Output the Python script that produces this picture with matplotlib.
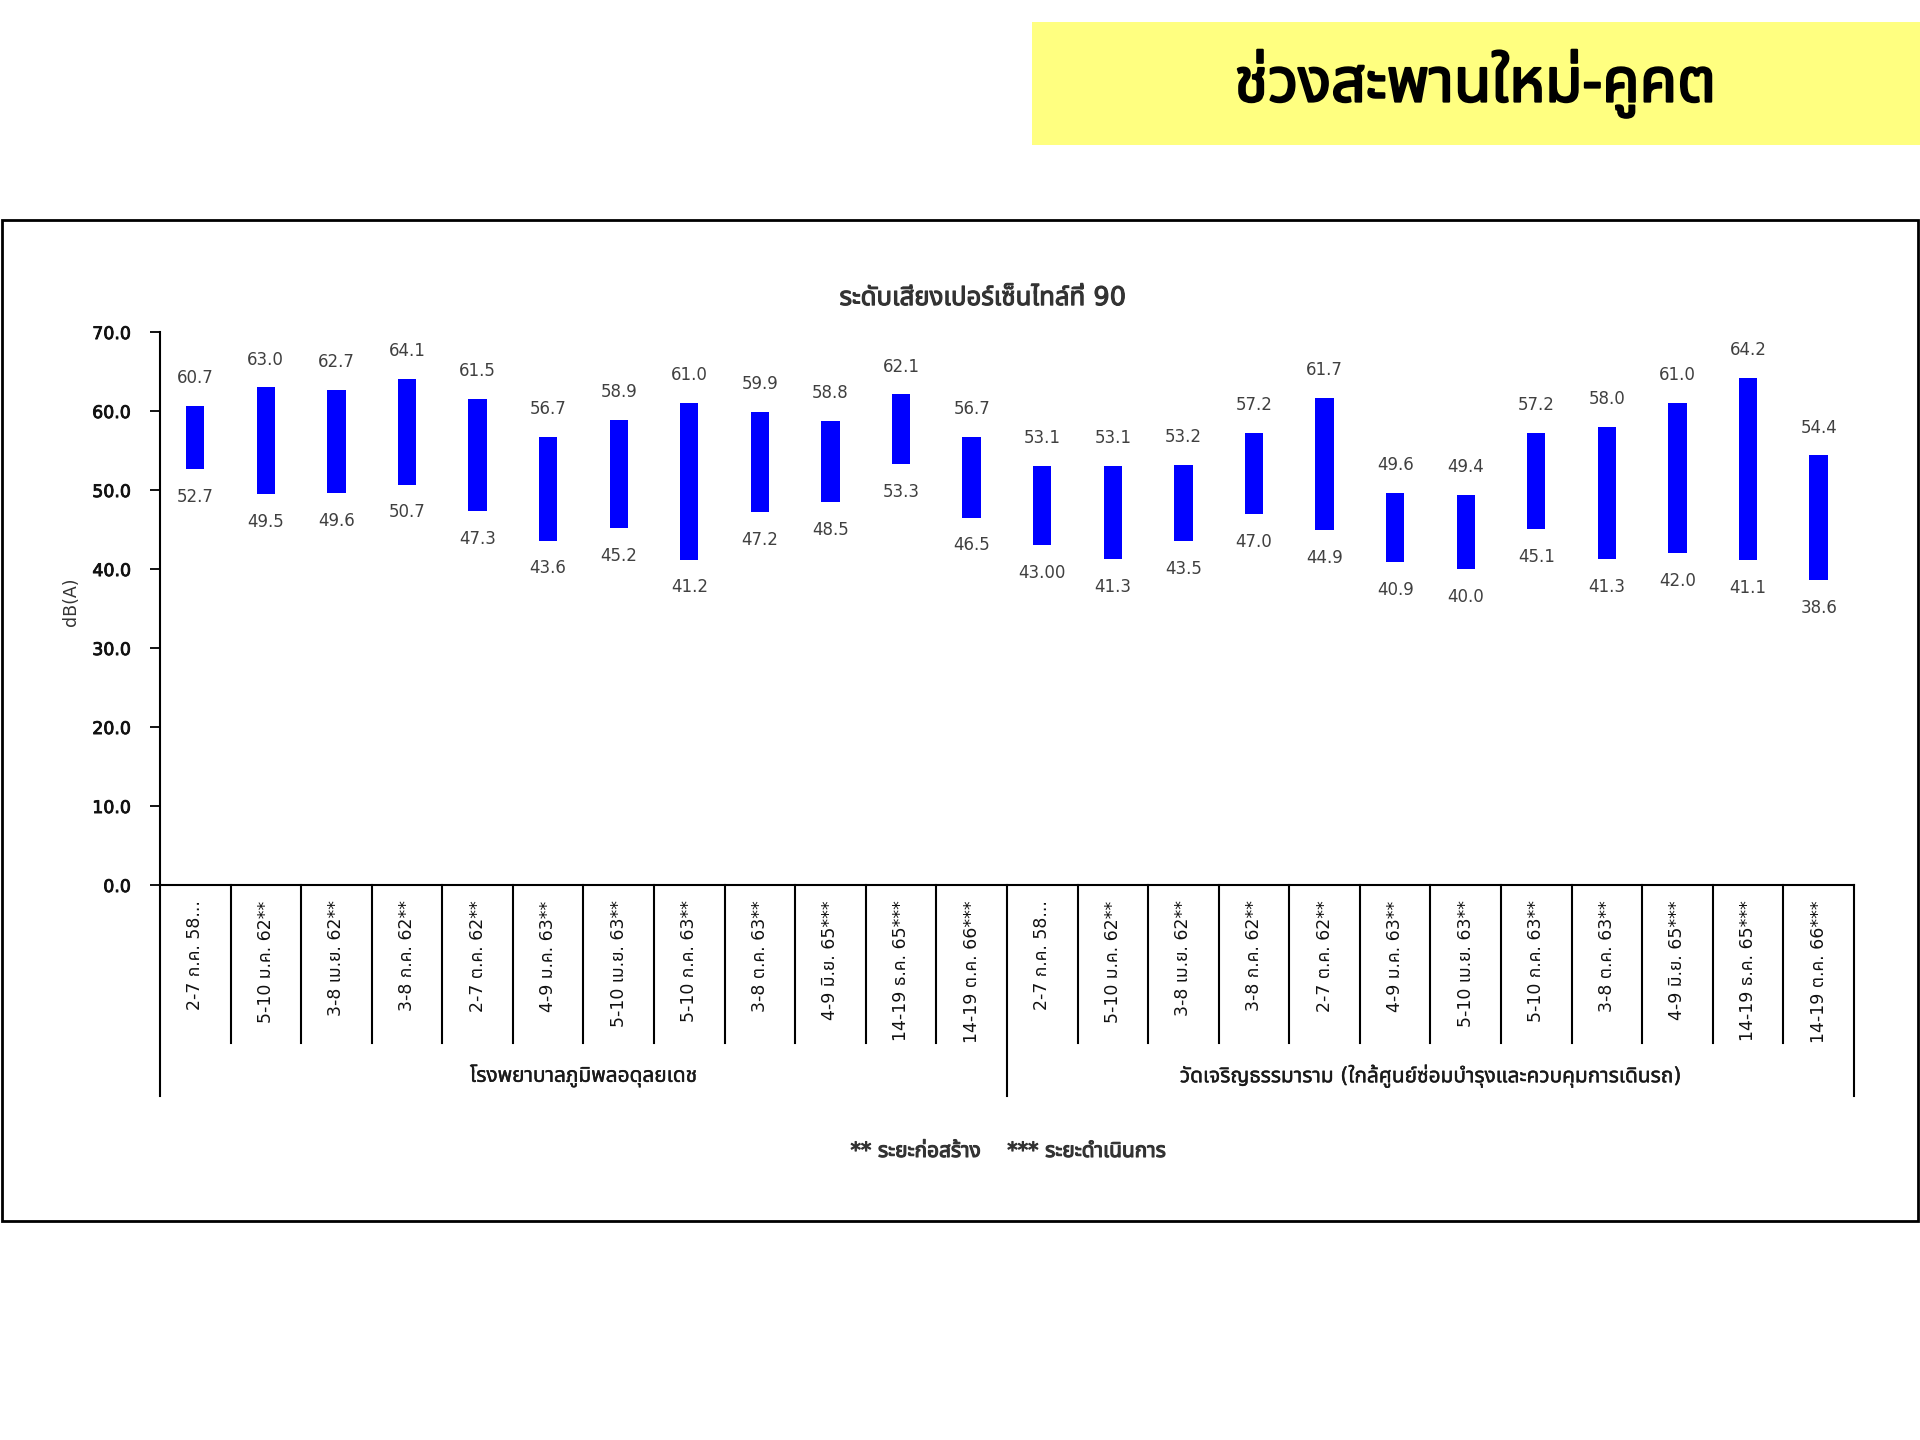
import matplotlib
matplotlib.use("Agg")
import matplotlib.pyplot as plt
import matplotlib.transforms as mtransforms
import matplotlib.patheffects as pe
from matplotlib import font_manager
from matplotlib.ft2font import FT2Font
from matplotlib.patches import Rectangle
import numpy as np

# data
periods = ["2-7 ก.ค. 58...", "5-10 ม.ค. 62**", "3-8 เม.ย. 62**", "3-8 ก.ค. 62**",
           "2-7 ต.ค. 62**", "4-9 ม.ค. 63**", "5-10 เม.ย. 63**", "5-10 ก.ค. 63**",
           "3-8 ต.ค. 63**", "4-9 มิ.ย. 65***", "14-19 ธ.ค. 65***", "14-19 ต.ค. 66***"]
stations = ["โรงพยาบาลภูมิพลอดุลยเดช",
            "วัดเจริญธรรมาราม (ใกล้ศูนย์ซ่อมบำรุงและควบคุมการเดินรถ)"]
high_1 = [60.7, 63.0, 62.7, 64.1, 61.5, 56.7, 58.9, 61.0, 59.9, 58.8, 62.1, 56.7]
low_1 = [52.7, 49.5, 49.6, 50.7, 47.3, 43.6, 45.2, 41.2, 47.2, 48.5, 53.3, 46.5]
high_2 = [53.1, 53.1, 53.2, 57.2, 61.7, 49.6, 49.4, 57.2, 58.0, 61.0, 64.2, 54.4]
low_2 = [43.0, 41.3, 43.5, 47.0, 44.9, 40.9, 40.0, 45.1, 41.3, 42.0, 41.1, 38.6]
yticks = [0, 10, 20, 30, 40, 50, 60, 70]


def find_thai_font():
    # หา font ที่มีตัวอักษรไทย
    preferred = ["Noto Sans Thai", "Noto Sans Thai UI", "Leelawadee UI", "Tahoma",
                 "Loma", "Garuda", "Waree", "Sarabun", "Kinnari", "Norasi"]
    found = {}
    for fe in font_manager.fontManager.ttflist:
        try:
            cmap = FT2Font(fe.fname).get_charmap()
        except Exception:
            continue
        if 0x0E01 in cmap and 0x0E48 in cmap:
            found.setdefault(fe.name, fe.fname)
    for p in preferred:
        if p in found:
            return p
    return sorted(found)[0] if found else "DejaVu Sans"


thai = find_thai_font()
fam = ["DejaVu Sans", thai]
plt.rcParams["font.family"] = fam


def heavy(w, c="#333333"):
    # ทำให้ตัวหนังสือหนาขึ้น (font ไทยไม่มีตัวหนา)
    return [pe.withStroke(linewidth=w, foreground=c)]


highs = np.array(high_1 + high_2)
lows = np.array(low_1 + low_2)
labels = periods + periods
x = np.arange(len(highs))
low_text = [f"{v:.1f}" for v in lows]
low_text[12] = "43.00"

fig = plt.figure(figsize=(19.2, 14.4), dpi=100)

# yellow heading box
fig.add_artist(Rectangle((0.5375, 0.899), 0.4625, 0.086, transform=fig.transFigure,
                         facecolor="#FFFF80", edgecolor="none"))
fig.text(0.7685, 0.942, "ช่วงสะพานใหม่-คูคต", ha="center", va="center",
         fontsize=44, family=[thai, "DejaVu Sans"], color="black",
         path_effects=heavy(1.6, "black"))

# chart frame
fig.add_artist(Rectangle((0.001, 0.152), 0.998, 0.695, transform=fig.transFigure,
                         facecolor="none", edgecolor="black", linewidth=2))

ax = fig.add_axes([0.0833, 0.3854, 0.8823, 0.384])
ax.bar(x, highs - lows, bottom=lows, width=0.26, color="#0000FF")

for xi, h, l, lt in zip(x, highs, lows, low_text):
    ax.annotate(f"{h:.1f}", (xi, h), xytext=(0, 20), textcoords="offset points",
                ha="center", va="center", fontsize=12, color="#404040")
    ax.annotate(lt, (xi, l), xytext=(0, -20), textcoords="offset points",
                ha="center", va="center", fontsize=12, color="#404040")

ax.set_xlim(-0.5, len(x) - 0.5)
ax.set_ylim(0, 70)
ax.set_yticks(yticks)
ax.set_yticklabels([f"{v:.1f}" for v in yticks], fontsize=12.5, color="#111111")
ax.set_xticks(x)
ax.set_xticklabels(labels, rotation=90, fontsize=12.5, color="#111111")
ax.tick_params(axis="x", length=0, pad=11)
ax.tick_params(axis="y", length=7, width=1.3, direction="out", pad=14)
for t in ax.get_yticklabels():
    t.set_path_effects(heavy(0.6, "#111111"))
for s in ["top", "right"]:
    ax.spines[s].set_visible(False)
for s in ["left", "bottom"]:
    ax.spines[s].set_linewidth(1.5)
    ax.spines[s].set_color("black")

# multi level category separators
trans = mtransforms.blended_transform_factory(ax.transData, ax.transAxes)
for k in range(len(x) + 1):
    bx = k - 0.5
    ybot = -0.3816 if k % 12 == 0 else -0.2857
    ax.plot([bx, bx], [0, ybot], transform=trans, clip_on=False, color="black", lw=1.5)
ax.text(5.5, -0.345, stations[0], transform=trans, ha="center", va="center",
        fontsize=15, color="#1a1a1a", path_effects=heavy(0.3, "#1a1a1a"))
ax.text(17.5, -0.345, stations[1], transform=trans, ha="center", va="center",
        fontsize=15, color="#1a1a1a", path_effects=heavy(0.3, "#1a1a1a"))

fig.text(0.512, 0.793, "ระดับเสียงเปอร์เซ็นไทล์ที่ 90", ha="center", va="center",
         fontsize=18.5, color="#333333", path_effects=heavy(0.8))
fig.text(0.037, 0.582, "dB(A)", rotation=90, ha="center", va="center",
         fontsize=12.5, color="#333333")
fig.text(0.525, 0.2007, "** ระยะก่อสร้าง    *** ระยะดำเนินการ", ha="center", va="center",
         fontsize=15, color="#333333", path_effects=heavy(0.8))

plt.savefig("out.png", dpi=100)
plt.close()
